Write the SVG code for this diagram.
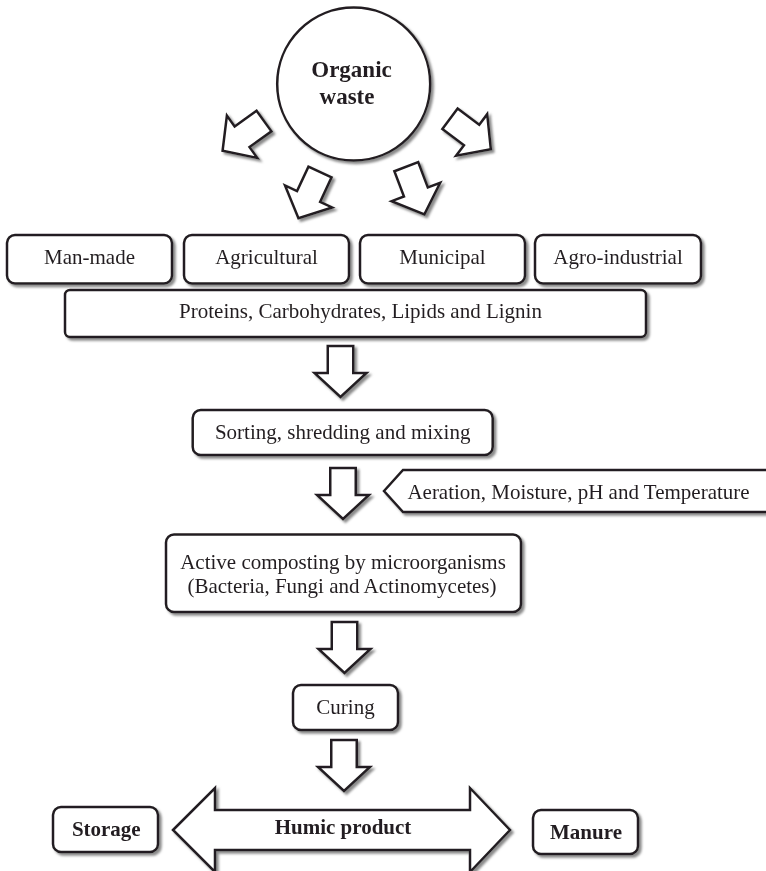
<svg xmlns="http://www.w3.org/2000/svg" xmlns:xlink="http://www.w3.org/1999/xlink" width="766" height="871" viewBox="0 0 766 871">
<style>
.box{fill:#fff;stroke:#231f20;stroke-width:2.5;stroke-linejoin:miter}
.t{font-family:"Liberation Serif","Times New Roman",serif;font-size:21px;fill:#231f20;text-anchor:middle}
.b{font-weight:bold}
.sh{filter:url(#sh)}
</style>
<defs>
<filter id="sh" x="-20%" y="-20%" width="140%" height="140%">
<feDropShadow dx="2.5" dy="2.5" stdDeviation="0.8" flood-color="#8a8a8a" flood-opacity="1"/>
</filter>
<polygon id="arr" points="-12.75,0 12.75,0 12.75,27 26,27 0,51 -26,27 -12.75,27"/>
</defs>
<rect width="766" height="871" fill="#fff"/>

<g id="connectors">
<g class="sh"><use xlink:href="#arr" class="box" transform="translate(264,121) rotate(54.3)"/></g>
<g class="sh"><use xlink:href="#arr" class="box" transform="translate(320,172) rotate(25)"/></g>
<g class="sh"><use xlink:href="#arr" class="box" transform="translate(406.3,166.7) rotate(-20.8)"/></g>
<g class="sh"><use xlink:href="#arr" class="box" transform="translate(450,118.8) rotate(-53.2)"/></g>
<g class="sh"><use xlink:href="#arr" class="box" transform="translate(340.5,346)"/></g>
<g class="sh"><use xlink:href="#arr" class="box" transform="translate(343,468)"/></g>
<g class="sh"><use xlink:href="#arr" class="box" transform="translate(344.5,622)"/></g>
<g class="sh"><use xlink:href="#arr" class="box" transform="translate(344,740)"/></g>
</g>

<g id="organic-waste" class="sh">
<circle class="box" cx="353.7" cy="84" r="76.5"/>
<text class="t b" x="351.5" y="77" style="font-size:23px">Organic</text>
<text class="t b" x="347" y="104" style="font-size:23px">waste</text>
</g>

<g id="man-made" class="sh">
<rect class="box" x="7" y="235" width="165" height="48.5" rx="8"/>
<text class="t" x="89.5" y="264">Man-made</text>
</g>
<g id="agricultural" class="sh">
<rect class="box" x="184" y="235" width="165" height="48.5" rx="8"/>
<text class="t" x="266.5" y="264">Agricultural</text>
</g>
<g id="municipal" class="sh">
<rect class="box" x="360" y="235" width="165" height="48.5" rx="8"/>
<text class="t" x="442.5" y="264">Municipal</text>
</g>
<g id="agro-industrial" class="sh">
<rect class="box" x="535" y="235" width="166" height="48.5" rx="8"/>
<text class="t" x="618" y="264">Agro-industrial</text>
</g>

<g id="components" class="sh">
<rect class="box" x="65" y="290" width="581" height="47" rx="5"/>
<text class="t" x="360.5" y="318">Proteins, Carbohydrates, Lipids and Lignin</text>
</g>

<g id="sorting" class="sh">
<rect class="box" x="192.7" y="410" width="300" height="45" rx="8"/>
<text class="t" x="342.7" y="438.5">Sorting, shredding and mixing</text>
</g>

<g id="conditions" class="sh">
<polygon class="box" points="384,491 403,470 790,470 790,512 403,512"/>
<text class="t" x="578.5" y="498.5">Aeration, Moisture, pH and Temperature</text>
</g>

<g id="active-composting" class="sh">
<rect class="box" x="166" y="534.5" width="355" height="77.5" rx="8"/>
<text class="t" x="343" y="569">Active composting by microorganisms</text>
<text class="t" x="342" y="593">(Bacteria, Fungi and Actinomycetes)</text>
</g>

<g id="curing" class="sh">
<rect class="box" x="293" y="685" width="105" height="45" rx="8"/>
<text class="t" x="345.5" y="714">Curing</text>
</g>

<g id="humic-product" class="sh">
<polygon class="box" points="173,830 215,788 215,810 470,810 470,788 510,830 470,872 470,850 215,850 215,872"/>
<text class="t b" x="343" y="834">Humic product</text>
</g>

<g id="storage" class="sh">
<rect class="box" x="53" y="807" width="105" height="45" rx="8"/>
<text class="t b" x="106.3" y="836">Storage</text>
</g>

<g id="manure" class="sh">
<rect class="box" x="533" y="810" width="105" height="44" rx="8"/>
<text class="t b" x="586" y="839">Manure</text>
</g>
</svg>
